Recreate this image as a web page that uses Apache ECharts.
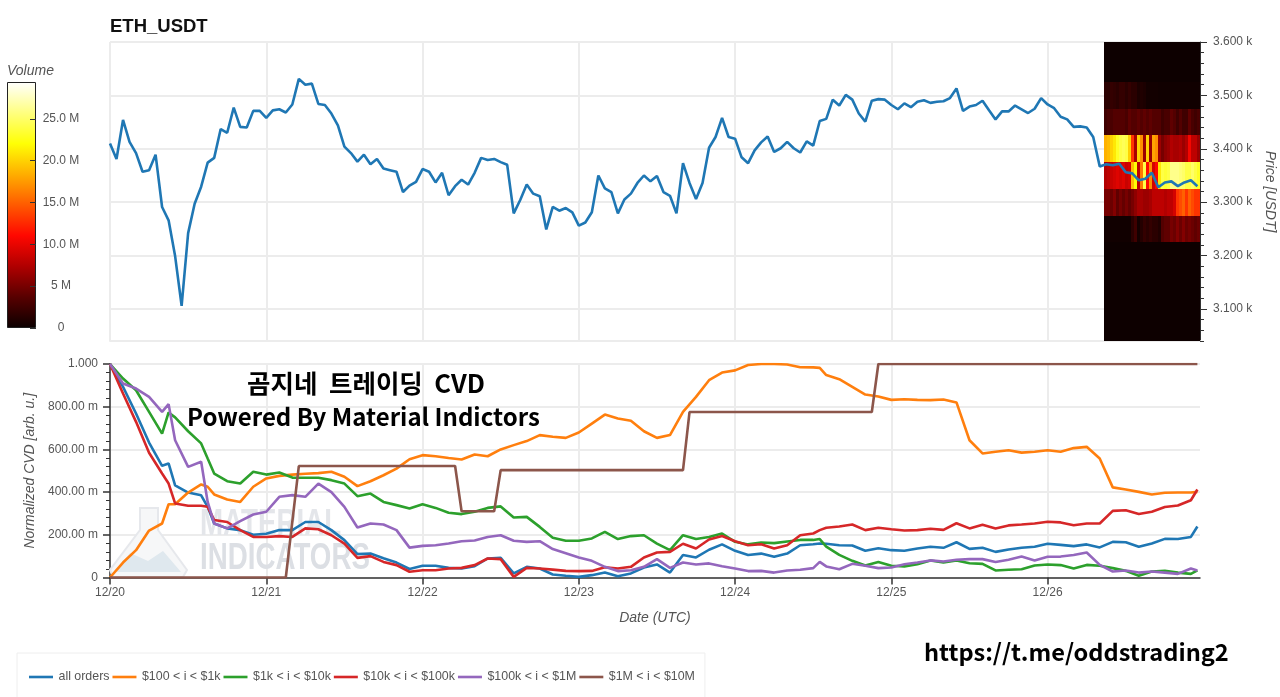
<!DOCTYPE html>
<html>
<head>
<meta charset="utf-8">
<title>ETH_USDT</title>
<script src="https://cdn.jsdelivr.net/npm/echarts@6/dist/echarts.min.js"></script>
<style>
html, body { margin: 0; padding: 0; background: #fff; }
#chart { width: 1280px; height: 697px; }
</style>
</head>
<body>
<div id="chart"></div>
<script>
var dayTicks = [0, 24, 48, 72, 96, 120, 144];
var dayLabels = ['12/20', '12/21', '12/22', '12/23', '12/24', '12/25', '12/26'];
var priceTicks = [3100, 3200, 3300, 3400, 3500, 3600];
var priceLabels = ['3.100 k', '3.200 k', '3.300 k', '3.400 k', '3.500 k', '3.600 k'];
var cvdLabels = ['0', '200.00 m', '400.00 m', '600.00 m', '800.00 m', '1.000'];
var volumeTicks = [0, 5, 10, 15, 20, 25];
var volumeLabels = ['0', '5 M', '10.0 M', '15.0 M', '20.0 M', '25.0 M'];

// hourly close
var price = [
  3410, 3381, 3454, 3413, 3392, 3357, 3360, 3389, 3291, 3266, 3199, 3106,
  3242, 3297, 3329, 3374, 3383, 3437, 3430, 3477, 3441, 3440, 3471, 3471,
  3458, 3472, 3474, 3468, 3483, 3531, 3520, 3522, 3484, 3482, 3466, 3444,
  3404, 3392, 3376, 3389, 3371, 3381, 3363, 3360, 3357, 3319, 3331, 3338,
  3362, 3357, 3337, 3355, 3313, 3330, 3342, 3333, 3355, 3383, 3379, 3381,
  3375, 3370, 3279, 3304, 3333, 3316, 3311, 3249, 3291, 3284, 3289, 3281,
  3256, 3262, 3281, 3350, 3326, 3319, 3279, 3305, 3316, 3336, 3350, 3339,
  3349, 3319, 3312, 3279, 3373, 3336, 3306, 3336, 3402, 3422, 3458, 3422,
  3419, 3384, 3373, 3397, 3412, 3423, 3394, 3401, 3413, 3401, 3393, 3414,
  3406, 3452, 3456, 3492, 3481, 3501, 3492, 3466, 3451, 3490, 3493, 3492,
  3482, 3474, 3485, 3478, 3488, 3491, 3486, 3488, 3489, 3495, 3513, 3471,
  3479, 3482, 3490, 3472, 3455, 3470, 3470, 3481, 3474, 3467, 3475, 3495,
  3483, 3476, 3460, 3455, 3441, 3442, 3440, 3422, 3367, 3371, 3369, 3372,
  3356, 3354, 3341, 3344, 3355, 3328, 3337, 3339, 3330, 3337, 3341, 3330
];

var cvdHours = [
  0, 2, 4, 6, 8, 9, 10, 12, 14, 15, 16, 18, 20, 22, 24, 26, 28, 30, 32, 34, 36, 38, 40, 42, 44, 46, 48,
  50, 52, 54, 56, 58, 60, 62, 64, 66, 68, 70, 72, 74, 76, 78, 80, 82, 84, 86, 88, 90, 92, 94, 96, 98,
  100, 102, 104, 106, 108, 109, 110, 112, 114, 116, 118, 120, 122, 124, 126, 128, 130, 132, 134, 136,
  138, 140, 142, 144, 146, 148, 150, 152, 154, 156, 158, 160, 162, 164, 166, 167
];
var allOrders = [
  1, .893, .768, .632, .523, .534, .432, .398, .385, .331, .253, .23, .222, .2, .205, .222, .222, .26, .26, .222, .175, .11, .112, .09, .07, .04, .055,
  .055, .045, .042, .053, .089, .092, .019, .05, .042, .014, .008, .003, .011, .023, .006, .019, .047, .061, .023, .105, .094, .13, .155, .125, .105,
  .112, .097, .112, .151, .156, .159, .158, .151, .15, .125, .137, .128, .125, .136, .144, .139, .165, .134, .139, .12,
  .131, .139, .144, .158, .153, .147, .155, .141, .167, .165, .144, .159, .181, .18, .19, .239
];
var orders100 = [
  0, .07, .128, .22, .253, .343, .343, .398, .436, .425, .389, .365, .354, .425, .464, .476, .482, .486, .489, .495, .472, .428, .451, .479, .51, .554, .573,
  .568, .56, .553, .576, .568, .6, .62, .639, .667, .659, .654, .679, .721, .763, .745, .734, .685, .654, .667, .776, .846, .924, .96, .97, .995,
  1, 1, .998, .985, .984, .982, .948, .929, .893, .857, .848, .832, .835, .832, .831, .834, .82, .643, .581, .589,
  .596, .585, .589, .596, .589, .606, .612, .557, .422, .412, .401, .389, .397, .398, .398, .401
];
var orders1k = [
  1, .932, .877, .776, .674, .773, .75, .685, .628, .557, .487, .451, .44, .495, .482, .492, .468, .467, .467, .456, .44, .381, .393, .354, .339, .323, .343,
  .326, .303, .297, .308, .326, .333, .281, .284, .237, .186, .172, .172, .183, .214, .18, .194, .198, .159, .128, .198, .18, .19, .206, .167, .155,
  .164, .161, .169, .176, .176, .18, .145, .106, .078, .056, .073, .055, .052, .062, .08, .07, .08, .067, .064, .033,
  .036, .039, .056, .061, .058, .042, .059, .055, .044, .031, .008, .028, .031, .023, .017, .033
];
var orders10k = [
  1, .862, .729, .584, .487, .44, .347, .336, .336, .331, .269, .26, .222, .19, .19, .194, .19, .23, .226, .198, .159, .092, .1, .073, .058, .027, .034,
  .034, .042, .045, .058, .089, .086, .003, .045, .042, .037, .031, .03, .031, .048, .042, .05, .094, .117, .12, .158, .136, .178, .194, .17, .151,
  .156, .136, .151, .198, .206, .222, .233, .239, .248, .222, .233, .226, .22, .222, .228, .223, .254, .23, .247, .23,
  .244, .248, .253, .261, .258, .245, .253, .253, .312, .315, .297, .308, .33, .337, .362, .412
];
var orders100k = [
  1, .909, .885, .846, .776, .812, .643, .518, .542, .354, .253, .23, .264, .295, .308, .378, .386, .378, .44, .4, .331, .234, .253, .248, .222, .14, .148,
  .151, .159, .17, .173, .19, .198, .172, .167, .17, .133, .114, .094, .078, .05, .03, .034, .05, .086, .045, .07, .061, .066, .053, .042, .03,
  .031, .023, .033, .036, .044, .073, .052, .039, .064, .055, .044, .047, .062, .07, .08, .075, .083, .086, .086, .073,
  .083, .098, .08, .097, .098, .105, .117, .059, .028, .033, .023, .028, .023, .017, .042, .033
];
// the $1M-$10M line only moves in a few steps
var orders1mHours = [0, 27, 29, 53, 54, 59, 60, 88, 89, 117, 118, 167];
var orders1m = [0, 0, .522, .522, .31, .31, .503, .503, .775, .775, 1, 1];

// volume by price, millions per column
var heatStartHour = 152.7;
var heatStepHours = 0.46;
var heatRowPrices = [3050, 3100, 3150, 3200, 3250, 3300, 3350, 3400, 3450, 3500, 3550, 3600];
var quietRow = [.1, .1, .1, .1, .1, .1, .1, .1, .1, .1, .1, .1, .1, .1, .1, .1, .1, .1, .1, .1, .1, .1, .1, .1, .1, .1, .1, .1, .1, .1, .1, .1];
var row3250 = [.3, .3, .3, .3, .3, .3, .3, .3, .3, 1.5, 2.5, .5, 1.2, 2, 1.5, 2, 1.5, 1.5, 1, 3.5, 4, 4, 5, 4.5, 5.5, 4.5, 5.5, 4.5, 5, 4.5, 4, 4.5];
var row3300 = [5, 5, 4.5, 5.5, 4, 5, 4.2, 5, 4.2, 5, 6, 7, 7, 6.5, 6.5, 7, 8, 8, 8, 8, 7.5, 8, 8, 9, 13, 14, 15, 13, 15, 14, 13, 13];
var row3350 = [7.5, 8, 8.5, 9, 9.5, 9, 9.5, 8.5, 9, 19, 22, 8, 16, 24, 11, 17, 9, 11, 21, 24, 23.5, 24, 26, 26, 26, 25.5, 25, 24, 24, 25, 24, 23];
var row3400 = [18.5, 19, 20, 21, 23, 24, 24.5, 24, 20, 13, 7, 20, 17, 6.5, 20, 6.5, 18, 17, 6.5, 5, 6, 6.5, 7.5, 7, 7, 7.5, 6.5, 7.5, 10.5, 8, 8, 6.5];
var row3450 = [2.5, 3, 3, 3.5, 3.5, 3.5, 3.5, 3, 4, 3.5, 3.5, 4, 3.5, 4, 3.5, 4, 3.5, 3.5, 3.5, 2.5, 3, 3, 4, 3.5, 2.5, 3.5, 2.5, 2.5, 4, 3, 2.5, 3];
var row3500 = [1.5, 1.5, 2, 1.8, 1.5, 2, 2, 1.5, 2, 1.5, 1.5, .8, 1, .8, .4, .4, .4, .4, .3, .3, .3, .3, .3, .3, .3, .3, .3, .3, .3, .3, .3, .3];
var heatRows = [quietRow, quietRow, quietRow, quietRow, row3250, row3300, row3350, row3400, row3450, row3500, quietRow, quietRow];

var volumeMax = 29.4;
var hotColors = ['#0b0000', '#570000', '#af0000', '#ff0700', '#ff5a00', '#ffae00', '#ffff05', '#ffff80', '#ffffff'];

var seriesColors = ['#1f77b4', '#ff7f0e', '#2ca02c', '#d62728', '#9467bd', '#8c564b'];
var legendNames = ['all orders', '$100 < i < $1k', '$1k < i < $10k', '$10k < i < $100k', '$100k < i < $1M', '$1M < i < $10M'];

var gridColor = '#ececec';
var textColor = '#555';
var sansFont = '"Liberation Sans", Arial, sans-serif';
var krFont = '"Noto Sans CJK KR", sans-serif';
var markFont = 'bold 36px "Liberation Sans", sans-serif';

function pairs(xs, ys) {
  var out = [];
  for (var i = 0; i < xs.length; i++) {
    out.push([xs[i], ys[i]]);
  }
  return out;
}

var priceData = [];
for (var h = 0; h < price.length; h++) {
  priceData.push([h, price[h]]);
}

var heatData = [];
for (var r = 0; r < heatRowPrices.length; r++) {
  for (var c = 0; c < heatRows[r].length; c++) {
    heatData.push([heatStartHour + c * heatStepHours, heatRowPrices[r], heatRows[r][c]]);
  }
}

function renderHeatCell(params, api) {
  var p0 = api.coord([api.value(0), api.value(1) + 25]);
  var p1 = api.coord([api.value(0) + heatStepHours, api.value(1) - 25]);
  // whole pixels, otherwise hairlines show between the cells
  var left = Math.round(p0[0]);
  var top = Math.round(p0[1]);
  var rect = echarts.graphic.clipRectByRect({
    x: left, y: top, width: Math.round(p1[0]) - left, height: Math.round(p1[1]) - top
  }, {
    x: params.coordSys.x, y: params.coordSys.y, width: params.coordSys.width, height: params.coordSys.height
  });
  return rect && { type: 'rect', shape: rect, style: { fill: api.visual('color') } };
}

function lineSeries(name, data, color, gridIndex) {
  return {
    name: name,
    type: 'line',
    data: data,
    xAxisIndex: gridIndex,
    yAxisIndex: gridIndex,
    showSymbol: false,
    symbol: 'none',
    lineStyle: { color: color, width: 2.6 },
    itemStyle: { color: color },
    z: 5
  };
}

var colorStops = [];
for (var s = 0; s < hotColors.length; s++) {
  colorStops.push({ offset: 1 - s / (hotColors.length - 1), color: hotColors[s] });
}

var option = {
  animation: false,
  backgroundColor: '#fff',
  textStyle: { fontFamily: sansFont },
  title: {
    text: 'ETH_USDT', left: 110, top: 17, padding: 0,
    textStyle: { fontSize: 18.5, fontWeight: 'bold', color: '#111', fontFamily: sansFont }
  },
  grid: [
    { left: 110, top: 42, width: 1090, height: 299, outerBoundsMode: 'none' },
    { left: 110, top: 364, width: 1090, height: 213.5, outerBoundsMode: 'none' },
    { left: 7, top: 82, width: 29, height: 246, outerBoundsMode: 'none' },
    // same box as the price plot, only carries the short price ticks
    { left: 110, top: 42, width: 1090, height: 299, outerBoundsMode: 'none' }
  ],
  xAxis: [
    {
      type: 'value', gridIndex: 0, min: 0, max: 167.4, interval: 24,
      axisLine: { lineStyle: { color: gridColor, width: 2 } },
      axisTick: { show: false, customValues: dayTicks }, axisLabel: { show: false, customValues: dayTicks },
      splitLine: { lineStyle: { color: gridColor, width: 2 } }
    },
    {
      type: 'value', gridIndex: 1, min: 0, max: 167.4, interval: 24,
      axisLine: { lineStyle: { color: '#333', width: 1.5 } },
      axisTick: { length: 7, customValues: dayTicks, lineStyle: { color: '#333', width: 1.5 } },
      axisLabel: {
        customValues: dayTicks, color: textColor, fontSize: 12, margin: 9,
        formatter: function (v) { return dayLabels[dayTicks.indexOf(v)] || ''; }
      },
      splitLine: { lineStyle: { color: gridColor, width: 2 } },
      name: 'Date (UTC)', nameLocation: 'middle', nameGap: 34,
      nameTextStyle: { fontStyle: 'italic', fontSize: 14, color: textColor }
    },
    { type: 'category', gridIndex: 2, data: ['v'], show: false },
    { type: 'value', gridIndex: 3, min: 0, max: 167.4, show: false }
  ],
  yAxis: [
    {
      type: 'value', gridIndex: 0, position: 'right', min: 3040, max: 3600, interval: 100,
      axisLine: { show: true, onZero: false, lineStyle: { color: '#333' } },
      axisTick: { length: 7, customValues: priceTicks, lineStyle: { color: '#333' } },
      axisLabel: {
        customValues: priceTicks, color: textColor, fontSize: 12, margin: 13,
        formatter: function (v) { return priceLabels[priceTicks.indexOf(v)] || ''; }
      },
      splitLine: { lineStyle: { color: gridColor, width: 2 } },
      name: 'Price [USDT]', nameLocation: 'middle', nameGap: 63, nameRotate: -90,
      nameTextStyle: { fontStyle: 'italic', fontSize: 14, color: textColor }
    },
    {
      type: 'value', gridIndex: 1, min: 0, max: 1, interval: 0.2,
      axisLine: { show: true, lineStyle: { color: '#333', width: 1.5 } },
      axisTick: { show: true, length: 7, lineStyle: { color: '#333', width: 1.5 } },
      minorTick: { show: true, splitNumber: 5, length: 4, lineStyle: { color: '#333' } },
      axisLabel: {
        color: textColor, fontSize: 12, margin: 12,
        formatter: function (v) { return cvdLabels[Math.round(v / 0.2)]; }
      },
      splitLine: { lineStyle: { color: gridColor, width: 2 } },
      name: 'Normalized CVD [arb. u.]', nameLocation: 'middle', nameGap: 73, nameRotate: 90,
      nameTextStyle: { fontStyle: 'italic', fontSize: 14, color: textColor }
    },
    {
      type: 'value', gridIndex: 2, position: 'right', min: 0, max: volumeMax, interval: 5, z: 6,
      axisLine: { show: false },
      axisTick: { show: true, inside: true, length: 6, customValues: volumeTicks, lineStyle: { color: '#333' } },
      axisLabel: {
        customValues: volumeTicks, color: textColor, fontSize: 12, margin: 25, align: 'center',
        formatter: function (v) { return volumeLabels[volumeTicks.indexOf(v)] || ''; }
      },
      splitLine: { show: false },
      name: 'Volume', nameLocation: 'end', nameGap: 4,
      nameTextStyle: { fontStyle: 'italic', fontSize: 14, color: textColor, align: 'left', padding: [0, 0, 0, -29] }
    },
    {
      type: 'value', gridIndex: 3, position: 'right', min: 3040, max: 3600, interval: 20,
      axisLine: { show: false, onZero: false },
      axisTick: { show: true, length: 4, lineStyle: { color: '#333' } },
      axisLabel: { show: false }, splitLine: { show: false }
    }
  ],
  visualMap: {
    show: false, type: 'continuous', seriesIndex: 0, dimension: 2,
    min: 0, max: volumeMax, inRange: { color: hotColors }
  },
  legend: {
    left: 17, top: 653, padding: [18, 10, 16, 12],
    borderColor: '#eee', borderWidth: 1,
    itemWidth: 24, itemHeight: 2.6, itemGap: 3,
    icon: 'rect',
    data: legendNames,
    textStyle: { fontSize: 12.4, color: textColor, fontFamily: sansFont, padding: [0, 0, 0, 0.5] }
  },
  series: [
    {
      type: 'custom', name: 'Volume', xAxisIndex: 0, yAxisIndex: 0,
      renderItem: renderHeatCell, data: heatData,
      encode: { x: 0, y: 1 }, z: 3, silent: true
    },
    lineSeries('ETH_USDT', priceData, seriesColors[0], 0),
    lineSeries(legendNames[0], pairs(cvdHours, allOrders), seriesColors[0], 1),
    lineSeries(legendNames[1], pairs(cvdHours, orders100), seriesColors[1], 1),
    lineSeries(legendNames[2], pairs(cvdHours, orders1k), seriesColors[2], 1),
    lineSeries(legendNames[3], pairs(cvdHours, orders10k), seriesColors[3], 1),
    lineSeries(legendNames[4], pairs(cvdHours, orders100k), seriesColors[4], 1),
    lineSeries(legendNames[5], pairs(orders1mHours, orders1m), seriesColors[5], 1),
    {
      type: 'bar', name: 'Volume scale', xAxisIndex: 2, yAxisIndex: 2,
      data: [volumeMax], barWidth: '100%', silent: true, z: 2,
      itemStyle: {
        borderColor: '#222', borderWidth: 1,
        color: new echarts.graphic.LinearGradient(0, 0, 0, 1, colorStops)
      }
    }
  ],
  graphic: [
    // flask watermark
    {
      type: 'polygon', silent: true, z: 1,
      shape: { points: [[140, 508], [158, 508], [158, 530], [187, 570], [183, 577], [113, 577], [110, 570], [140, 530]] },
      style: { fill: '#f6f7f8', stroke: '#e6e8ec', lineWidth: 2 }
    },
    {
      type: 'polygon', silent: true, z: 1,
      shape: { points: [[116, 572], [130, 553], [148, 561], [163, 551], [181, 572]] },
      style: { fill: '#dfe8ee' }
    },
    {
      type: 'text', silent: true, z: 1, x: 200, y: 525, scaleX: 0.77,
      style: { text: 'MATERIAL', fill: '#e4e6ea', font: markFont, verticalAlign: 'middle' }
    },
    {
      type: 'text', silent: true, z: 1, x: 200, y: 559, scaleX: 0.77,
      style: { text: 'INDICATORS', fill: '#dcdfe4', font: markFont, verticalAlign: 'middle' }
    },
    {
      type: 'text', z: 20, left: 247, top: 371,
      style: { text: '곰지네  트레이딩  CVD', fill: '#000', font: 'bold 25.5px ' + krFont }
    },
    {
      type: 'text', z: 20, left: 187, top: 405,
      style: { text: 'Powered By Material Indictors', fill: '#000', font: 'bold 24px ' + krFont }
    },
    {
      type: 'text', z: 20, left: 924, top: 640,
      style: { text: 'https://t.me/oddstrading2', fill: '#000', font: 'bold 23.6px ' + krFont }
    }
  ]
};

var myChart = echarts.init(document.getElementById('chart'), null, { renderer: 'canvas' });
myChart.setOption(option);
</script>
</body>
</html>
